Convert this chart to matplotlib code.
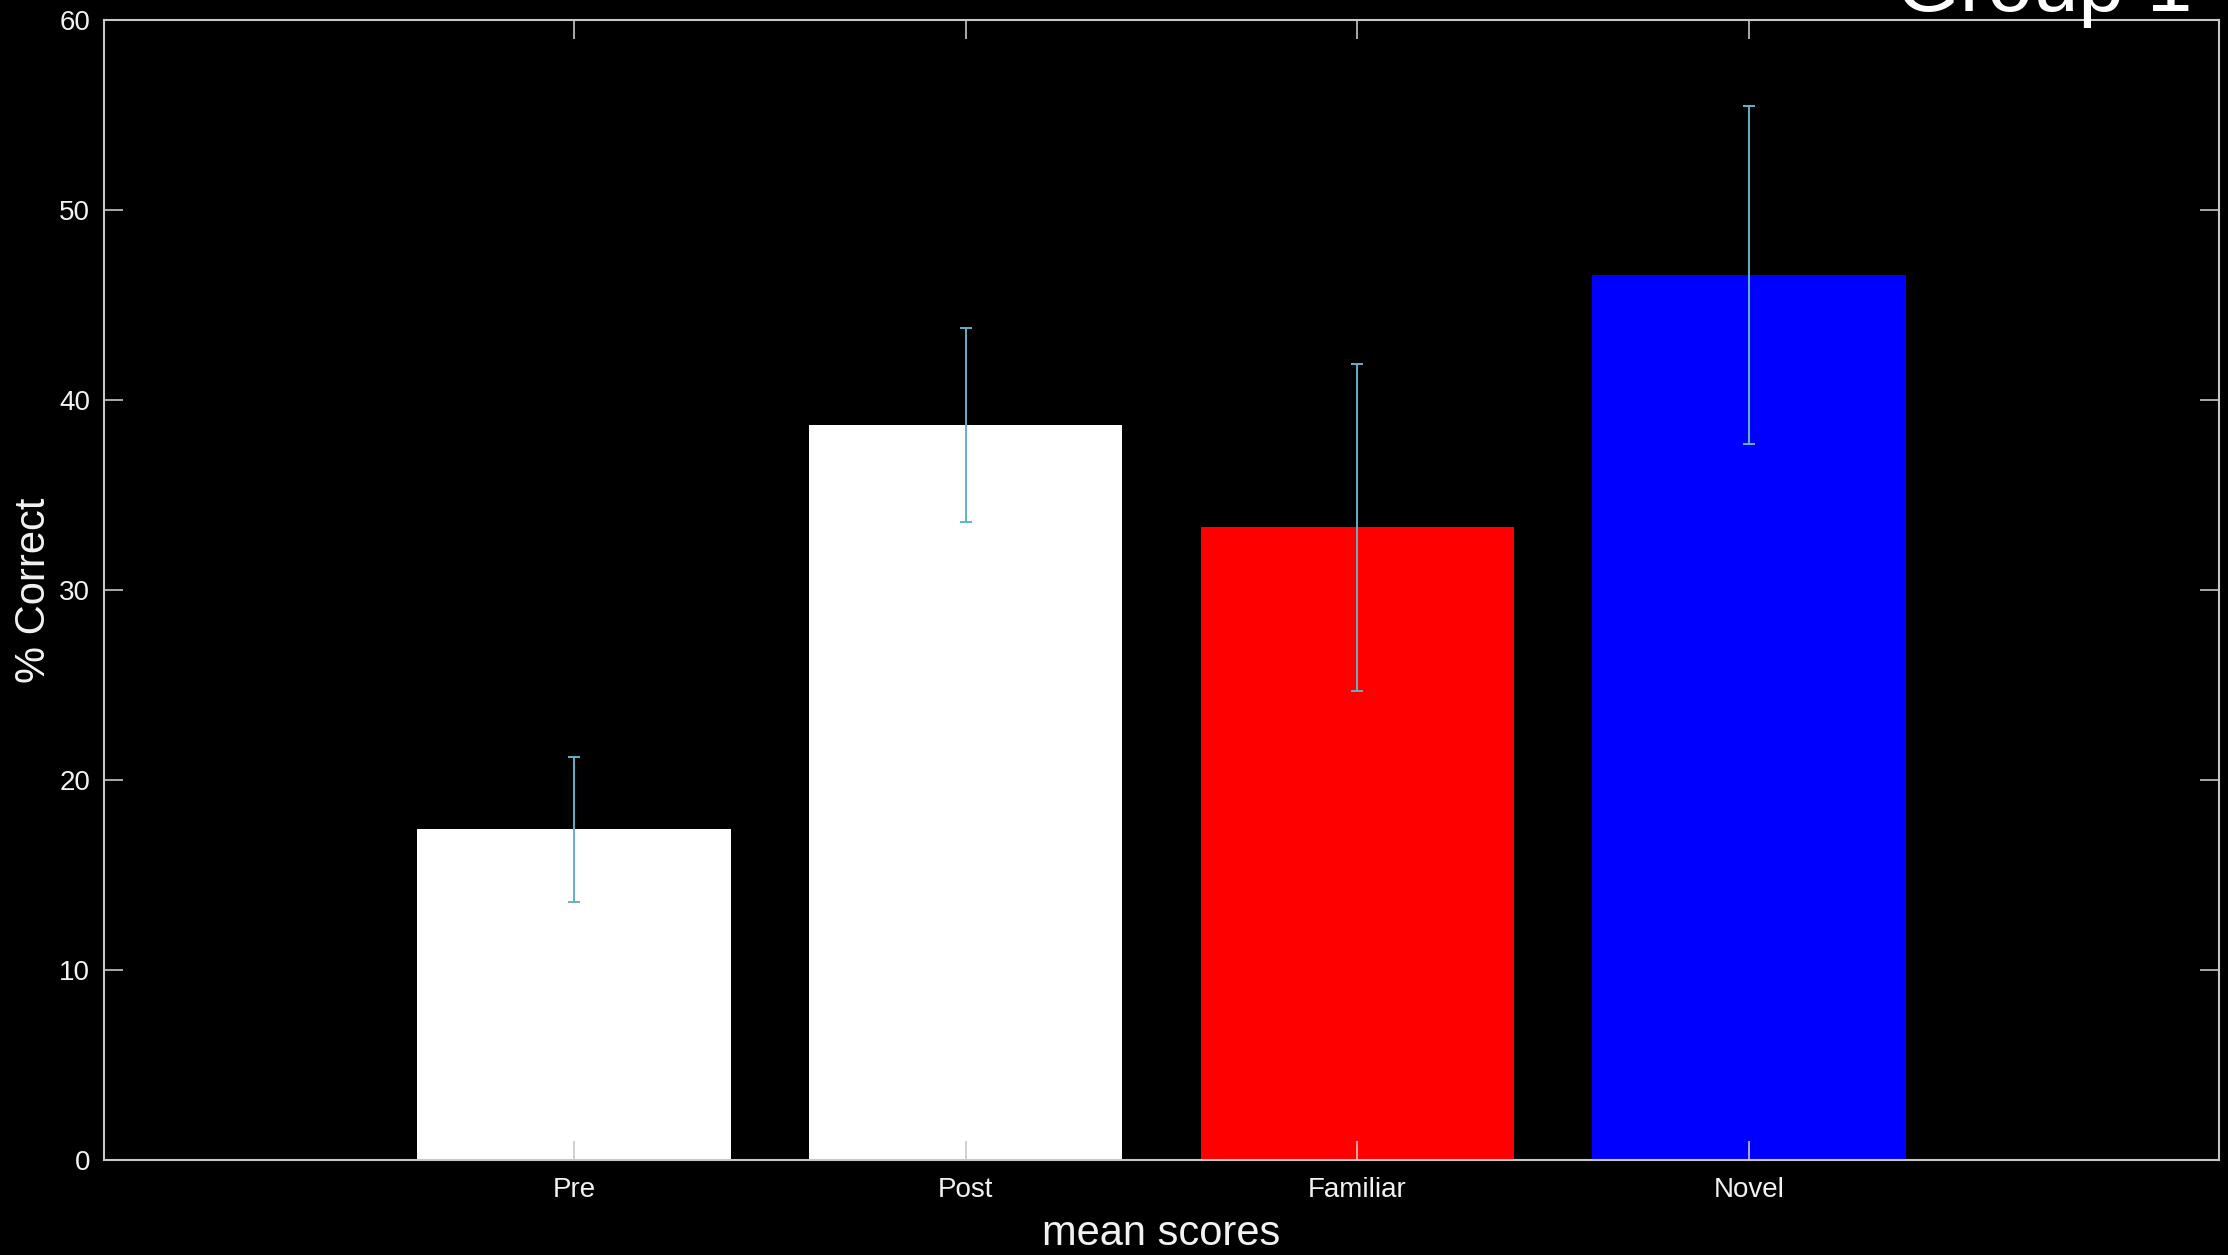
import matplotlib.pyplot as plt

# mean scores per condition (% correct) and their error half-widths
conditions = ["Pre", "Post", "Familiar", "Novel"]
means = [17.4, 38.7, 33.3, 46.6]
errors = [3.8, 5.1, 8.6, 8.9]
bar_colors = ["#ffffff", "#ffffff", "#ff0000", "#0000ff"]
y_ticks = [0, 10, 20, 30, 40, 50, 60]

plt.rcParams["font.family"] = ["Liberation Sans", "DejaVu Sans"]
FG = "#f2f2f2"
AXIS = "#c8c8c8"

fig = plt.figure(figsize=(22.28, 12.55), dpi=100, facecolor="black")
ax = fig.add_axes([0.0467, 0.0757, 0.9493, 0.9083])
ax.set_facecolor("black")

x = list(range(1, len(conditions) + 1))
ax.bar(x, means, width=0.8, color=bar_colors, zorder=1)
ax.errorbar(x, means, yerr=errors, fmt="none", ecolor="#62b2c8",
            elinewidth=1.4, capsize=4, capthick=1.4, zorder=3)

ax.set_xlim(-0.2, 5.2)
ax.set_ylim(0, 60)
ax.set_xticks(x)
ax.set_xticklabels(conditions)
ax.set_yticks(y_ticks)

for side in ax.spines.values():
    side.set_color(AXIS)
    side.set_linewidth(1.5)
ax.tick_params(direction="in", length=14, width=1.2, color=AXIS,
               top=True, right=True, labelsize=20, labelcolor=FG)
ax.tick_params(axis="x", pad=12)
ax.tick_params(axis="y", pad=10)

ax.set_xlabel("mean scores", fontsize=30, color=FG, labelpad=8)
ax.set_ylabel("% Correct", fontsize=30, color=FG, labelpad=4)

# group title sits at the very top edge of the figure
fig.text(0.984, 1 - 11 / 1255, "Group 1", ha="right", va="baseline",
         fontsize=59, color="white")

fig.savefig("out.png", dpi=100, facecolor="black")
